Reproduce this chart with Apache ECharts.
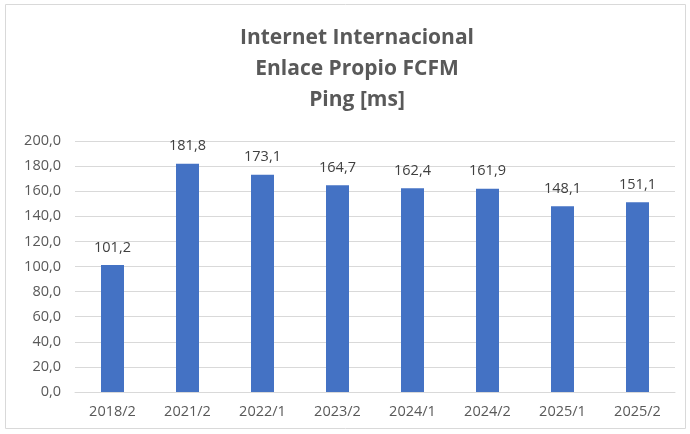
<!DOCTYPE html>
<html><head><meta charset="utf-8">
<script src="https://cdn.jsdelivr.net/npm/echarts@6/dist/echarts.min.js"></script>
<style>html,body{margin:0;padding:0;background:#fff}#c{width:690px;height:434px}</style>
</head><body><div id="c"></div>
<script>
const categories = ['2018/2','2021/2','2022/1','2023/2','2024/1','2024/2','2025/1','2025/2'];
const pingValues = [101.2,181.8,173.1,164.7,162.4,161.9,148.1,151.1];
const titleLines = ['Internet Internacional','Enlace Propio FCFM','Ping [ms]'];
const fmt = v => v.toFixed(1).replace('.', ',');
const chart = echarts.init(document.getElementById('c'));
chart.setOption({
  animation:false,
  graphic:[{type:'rect',shape:{x:5.5,y:4.5,width:680,height:424},style:{fill:'none',stroke:'#d9d9d9',lineWidth:1}}],
  title:{text:titleLines.join('\n'),left:352,textAlign:'center',top:18,
    textStyle:{fontFamily:'Open Sans',fontWeight:'bold',fontSize:21,color:'#595959',lineHeight:31}},
  grid:{left:75,right:15,top:141,bottom:42},
  xAxis:{type:'category',data:categories,
    axisLine:{lineStyle:{color:'#d9d9d9'}},axisTick:{show:false},
    axisLabel:{color:'#595959',fontFamily:'Open Sans',fontSize:14.5,margin:12}},
  yAxis:{type:'value',min:0,max:200,interval:20,
    axisLine:{show:false},axisTick:{show:false},
    splitLine:{lineStyle:{color:'#d9d9d9'}},
    axisLabel:{color:'#595959',fontFamily:'Open Sans',fontSize:14.5,margin:14,formatter:v=>fmt(v)}},
  series:[{type:'bar',data:pingValues,barWidth:23,
    itemStyle:{color:'#4472C4'},
    label:{show:true,position:'top',distance:10,color:'#404040',fontFamily:'Open Sans',fontSize:14.5,formatter:p=>fmt(p.value)}}]
});
</script></body></html>
